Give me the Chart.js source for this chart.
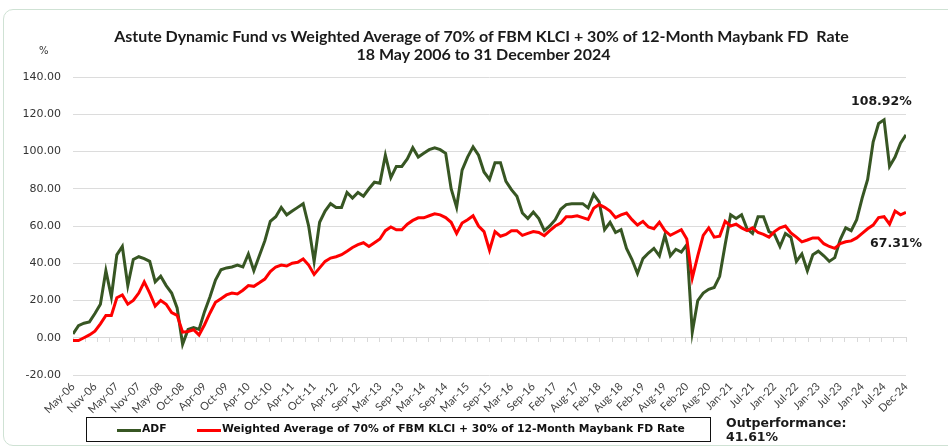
<!DOCTYPE html>
<html>
<head>
<meta charset="utf-8">
<script src="https://cdn.jsdelivr.net/npm/chart.js@4/dist/chart.umd.min.js"></script>
<style>
  body { margin: 0; background: #fff; }
  #wrap { position: relative; width: 948px; height: 448px; overflow: hidden; background: #fff; }
  #frame { position: absolute; left: 3px; top: 9px; width: 960px; height: 435px; border: 1.5px solid #cfe2d4; border-radius: 10px; }
  #c { position: absolute; left: 0; top: 0; }
  .t { position: absolute; white-space: pre; color: #1a1a1a; }
  .title { left: 0; width: 963px; text-align: center; font: bold 16px Lato, sans-serif; }
  .note { font: bold 12.5px "DejaVu Sans", sans-serif; line-height: 14px; }
  #legend { position: absolute; left: 86px; top: 417px; width: 623px; height: 23px; border: 1px solid #111; }
  .sw { position: absolute; top: 11px; width: 24px; height: 3px; }
  .lt { position: absolute; top: 4px; font: bold 10.75px "DejaVu Sans", sans-serif; color: #111; }
</style>
</head>
<body>
<div id="wrap">
  <div id="frame"></div>
  <canvas id="c" width="948" height="448"></canvas>
  <div class="t title" style="top:26px">Astute Dynamic Fund vs Weighted Average of 70% of FBM KLCI + 30% of 12-Month Maybank FD  Rate</div>
  <div class="t title" style="top:44px;left:2px">18 May 2006 to 31 December 2024</div>
  <div class="t" style="left:39px;top:45px;font:10px 'DejaVu Sans',sans-serif;color:#333">%</div>
  <div class="t note" style="left:851px;top:94px">108.92%</div>
  <div class="t note" style="left:870px;top:236px">67.31%</div>
  <div class="t note" style="left:726px;top:416px">Outperformance:
41.61%</div>
  <div id="legend">
    <div class="sw" style="left:30px;background:#375623"></div>
    <div class="lt" style="left:55px">ADF</div>
    <div class="sw" style="left:110px;background:#ff0000"></div>
    <div class="lt" style="left:135px">Weighted Average of 70% of FBM KLCI + 30% of 12-Month Maybank FD Rate</div>
  </div>
</div>
<script>
// ── Data (4 points per x-axis label step) ──
const xTickLabels = [
  "May-06", "Nov-06", "May-07", "Nov-07", "May-08", "Oct-08", "Apr-09", "Oct-09", "Apr-10", "Oct-10",
  "Apr-11", "Oct-11", "Apr-12", "Sep-12", "Mar-13", "Sep-13", "Mar-14", "Sep-14", "Mar-15", "Sep-15",
  "Mar-16", "Sep-16", "Feb-17", "Aug-17", "Feb-18", "Aug-18", "Feb-19", "Aug-19", "Feb-20", "Aug-20",
  "Jan-21", "Jul-21", "Jan-22", "Jul-22", "Jan-23", "Jul-23", "Jan-24", "Jul-24", "Dec-24"
];
const PTS_PER_TICK = 4;

const adfValues = [
  2, 6.5, 7.8, 8.5, 13, 18, 36, 22, 44.5, 49,
  28, 42, 43.5, 42.5, 41, 30, 33, 28, 24, 16,
  -3.5, 4.5, 5.5, 4.5, 14, 22, 31, 36.5, 37.5, 38,
  39, 38, 45, 36, 44, 52, 62.5, 65, 70, 66,
  68, 70, 72, 60, 41, 62, 68, 72, 70, 70,
  78, 75, 78, 76, 80, 83.5, 83, 98, 86, 92,
  92, 96, 102, 97, 99, 101, 102, 101, 99, 80,
  70, 90, 97, 102.5, 98, 89, 85, 94, 94, 84,
  79.5, 76, 67, 64, 67.5, 64, 57.5, 60, 63.4, 69,
  71.5, 72, 72, 72, 69.7, 77, 73, 58, 62, 56.5,
  58, 48, 42, 34.5, 42.5, 45.5, 48, 44, 55, 44,
  47.5, 46, 50, 3, 20, 24, 26, 27, 33, 50,
  66, 64, 66, 58.5, 56, 65, 65, 57, 55.5, 49,
  56, 54, 41, 45, 36, 44.6, 46.5, 44, 41, 43,
  52.7, 59, 57.5, 63.4, 75, 85, 105, 115, 117, 92,
  97, 104.5, 108.92
];

const benchmarkValues = [
  -1.5, -1.5, 0, 1.5, 3.5, 7.5, 12, 12, 21.5, 23,
  18, 20, 24, 30, 24, 17, 20, 18, 13.5, 12,
  3, 3.4, 4.3, 1.5, 7, 13.3, 19, 21, 23, 24,
  23.5, 25.5, 28, 27.6, 29.5, 31.5, 35.5, 38, 39, 38.5,
  40, 40.5, 42.3, 39, 34, 37.5, 41, 42.8, 43.5, 44.6,
  46.5, 48.5, 50, 51, 49, 51, 53, 57.5, 59.5, 58,
  58, 61, 63, 64.4, 64.4, 65.5, 66.5, 66, 64.5, 62,
  56, 61.6, 63.4, 65.5, 60, 57, 47, 57, 54.5, 55.5,
  57.5, 57.5, 55, 56, 57, 56.5, 54.8, 57.5, 60, 61.6,
  65, 65, 65.5, 64.5, 63.5, 69.5, 71.5, 70, 68, 64.5,
  66, 67, 63.4, 60.5, 62.5, 59.5, 58.5, 62, 57.5, 55,
  56.5, 58, 53, 32, 44, 55, 59, 54, 54.5, 62.5,
  60, 61, 59, 57.5, 59, 56.5, 55.5, 54, 57, 59,
  60, 56.3, 54, 51.5, 52.5, 53.6, 53.6, 50.5, 49, 48,
  50.5, 51.5, 52, 53.6, 56, 58.5, 60.5, 64.5, 65, 61,
  68, 66, 67.31
];

const yMin = -20, yMax = 140, yStep = 20;
const minorTickCount = 68;

const toPoints = vals => vals.map((v, i) => ({ x: i / PTS_PER_TICK, y: v }));
const lastTick = xTickLabels.length - 1;
const axisFont = { family: "'DejaVu Sans', sans-serif", size: 11 };

new Chart(document.getElementById("c"), {
  type: "line",
  data: {
    datasets: [
      { label: "ADF", data: toPoints(adfValues), borderColor: "#375623", borderWidth: 3, pointRadius: 0, tension: 0, order: 2 },
      { label: "Weighted Average of 70% of FBM KLCI + 30% of 12-Month Maybank FD Rate", data: toPoints(benchmarkValues), borderColor: "#ff0000", borderWidth: 3, pointRadius: 0, tension: 0, order: 1 },
    ],
  },
  options: {
    responsive: false, animation: false, devicePixelRatio: 1,
    layout: { padding: { left: 10, right: 42, top: 77, bottom: 31 } },
    plugins: { legend: { display: false }, title: { display: false }, tooltip: { enabled: false } },
    scales: {
      x: {
        type: "linear", min: 0, max: lastTick, position: "bottom",
        border: { display: false }, grid: { display: false, drawTicks: false },
        ticks: { stepSize: 1, autoSkip: false, maxRotation: 45, minRotation: 45, padding: 5, color: "#404040",
                 font: { family: "Lato, sans-serif", size: 11 },
                 callback: v => xTickLabels[Math.round(v)] || "" },
        afterFit: s => { s.height = 42; },
      },
      x2: {
        type: "linear", min: 0, max: lastTick, position: { y: 0 },
        border: { display: true, color: "#d9d9d9" },
        grid: { drawOnChartArea: false, drawTicks: true, tickLength: 4, color: "#d9d9d9" },
        ticks: { display: false, stepSize: lastTick / minorTickCount, autoSkip: false },
      },
      y: {
        min: yMin, max: yMax,
        border: { display: false },
        grid: { color: "#dcdcdc", drawTicks: false },
        ticks: { stepSize: yStep, padding: 12, color: "#333", font: axisFont, callback: v => Number(v).toFixed(2) },
        afterFit: s => { s.width = 63; },
      },
    },
  },
});
</script>
</body>
</html>
